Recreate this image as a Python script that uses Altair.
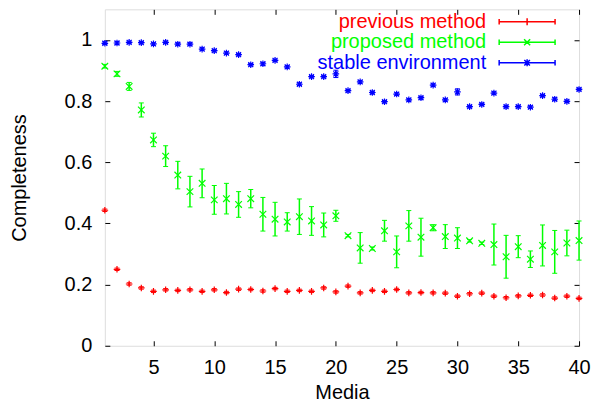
import altair as alt
import pandas as pd

media = list(range(1, 41))
series_names = ["previous method", "proposed method", "stable environment"]
series_colors = ["#ff0000", "#00ff00", "#0000ff"]

prev_y = [0.443, 0.250, 0.202, 0.189, 0.178, 0.183, 0.181, 0.183, 0.178, 0.183,
          0.174, 0.185, 0.184, 0.179, 0.187, 0.178, 0.181, 0.178, 0.189, 0.176,
          0.195, 0.173, 0.181, 0.178, 0.184, 0.173, 0.174, 0.173, 0.172, 0.162,
          0.170, 0.172, 0.162, 0.157, 0.163, 0.165, 0.166, 0.156, 0.162, 0.155]
prev_err = [0.004] * 40

prop_y = [0.914, 0.889, 0.848, 0.771, 0.673, 0.620, 0.558, 0.504, 0.531, 0.477,
          0.481, 0.462, 0.481, 0.430, 0.414, 0.405, 0.422, 0.408, 0.395, 0.425,
          0.360, 0.320, 0.318, 0.376, 0.307, 0.392, 0.355, 0.386, 0.357, 0.352,
          0.343, 0.335, 0.331, 0.291, 0.324, 0.283, 0.328, 0.307, 0.336, 0.344]
prop_err = [0.006, 0.008, 0.013, 0.023, 0.022, 0.034, 0.045, 0.050, 0.047, 0.047,
            0.050, 0.042, 0.030, 0.055, 0.055, 0.030, 0.058, 0.047, 0.039, 0.018,
            0.004, 0.050, 0.005, 0.034, 0.052, 0.050, 0.062, 0.010, 0.039, 0.034,
            0.004, 0.004, 0.067, 0.070, 0.036, 0.027, 0.067, 0.070, 0.042, 0.064]

stab_y = [0.989, 0.990, 0.992, 0.991, 0.987, 0.992, 0.986, 0.986, 0.970, 0.965,
          0.957, 0.952, 0.919, 0.922, 0.933, 0.912, 0.855, 0.880, 0.880, 0.889,
          0.834, 0.863, 0.828, 0.798, 0.823, 0.804, 0.811, 0.852, 0.804, 0.830,
          0.782, 0.789, 0.826, 0.782, 0.782, 0.780, 0.818, 0.806, 0.799, 0.838]
stab_err = [0.004] * 19 + [0.012] + [0.004] * 9 + [0.010] + [0.004] * 10

x_ticks = [5, 10, 15, 20, 25, 30, 35, 40]
y_ticks = [0, 0.2, 0.4, 0.6, 0.8, 1.0]

rows = []
for name, ys, es in zip(series_names, [prev_y, prop_y, stab_y], [prev_err, prop_err, stab_err]):
    for m, v, e in zip(media, ys, es):
        rows.append({"media": m, "value": v, "lo": v - e, "hi": v + e, "series": name})
df = pd.DataFrame(rows)

W, H = 475, 337
FONT = "Liberation Sans"

marker_paths = [
    "M-1,0L1,0M0,-1L0,1",
    "M-1,-1L1,1M-1,1L1,-1",
    "M-1,0L1,0M0,-1L0,1M-0.75,-0.75L0.75,0.75M-0.75,0.75L0.75,-0.75",
]
# legend symbols: unit = 8 px (symbolSize 256)
line_part = "M-3.5,0L3.5,0M-3.5,-0.35L-3.5,0.35M3.5,-0.35L3.5,0.35"
legend_paths = [
    line_part + "M0,-0.44L0,0.44",
    line_part + "M-0.38,-0.38L0.38,0.38M-0.38,0.38L0.38,-0.38",
    line_part + "M0,-0.44L0,0.44M-0.35,-0.35L0.35,0.35M-0.35,0.35L0.35,-0.35",
]

color_expr = "datum.value === '%s' ? '%s' : (datum.value === '%s' ? '%s' : '%s')" % (
    series_names[0], series_colors[0], series_names[1], series_colors[1], series_colors[2])

xs = alt.Scale(domain=[1, 40], nice=False, zero=False)
ys = alt.Scale(domain=[0, 1.1], nice=False, zero=False)
color = alt.Color("series:N", scale=alt.Scale(domain=series_names, range=series_colors), legend=None)

x_main = alt.Axis(orient="bottom", offset=0, values=x_ticks, ticks=False, tickSize=0, domain=False,
                  grid=False, labelFont=FONT, labelFontSize=20, labelColor="black", labelPadding=12,
                  labelFlush=False, labelOverlap=False, title="Media", titleFont=FONT,
                  titleFontSize=20, titleFontWeight="normal", titleColor="black",
                  titleX=W / 2, titleY=47, titleBaseline="middle")
y_main = alt.Axis(orient="left", offset=0, values=y_ticks, format="~g", ticks=False, tickSize=0,
                  domain=False, grid=False, labelFont=FONT, labelFontSize=20, labelColor="black",
                  labelPadding=13, labelFlush=False, labelOverlap=False, title="Completeness",
                  titleFont=FONT, titleFontSize=20, titleFontWeight="normal", titleColor="black",
                  titleX=-85, titleY=H / 2, titleBaseline="middle", titleAngle=270)


def tick_axis(orient, values):
    off = -H if orient in ("top", "bottom") else -W
    return alt.Axis(orient=orient, offset=off, values=values, labels=False, domain=False, grid=False,
                    ticks=True, tickSize=5, tickColor="black", tickWidth=1, title=None)


base = alt.Chart(df)

rules = base.mark_rule(strokeWidth=1.5).encode(
    x=alt.X("media:Q", scale=xs, axis=x_main),
    y=alt.Y("lo:Q", scale=ys, axis=y_main),
    y2="hi:Q",
    color=color,
)
cap_lo = base.mark_tick(orient="horizontal", size=5, thickness=1, opacity=1).encode(
    x=alt.X("media:Q", scale=xs, axis=tick_axis("top", x_ticks)),
    y=alt.Y("lo:Q", scale=ys, axis=tick_axis("right", y_ticks)),
    color=color,
)
cap_hi = base.mark_tick(orient="horizontal", size=5, thickness=1, opacity=1).encode(
    x=alt.X("media:Q", scale=xs, axis=tick_axis("bottom", x_ticks)),
    y=alt.Y("hi:Q", scale=ys, axis=tick_axis("left", y_ticks)),
    color=color,
)
points = base.mark_point(filled=False, size=44, strokeWidth=1.2, opacity=1).encode(
    x=alt.X("media:Q", scale=xs, axis=None),
    y=alt.Y("value:Q", scale=ys, axis=None),
    color=color,
    shape=alt.Shape("series:N", scale=alt.Scale(domain=series_names, range=marker_paths), legend=None),
)
legend_layer = base.mark_point(filled=False, size=36, strokeWidth=1.5, opacity=0).encode(
    x=alt.X("media:Q", scale=xs, axis=None),
    y=alt.Y("value:Q", scale=ys, axis=None),
    color=color,
    shape=alt.Shape(
        "series:N",
        scale=alt.Scale(domain=series_names, range=legend_paths),
        legend=alt.Legend(
            orient="none", legendX=413, legendY=2.5, title=None, padding=0, rowPadding=0.5,
            labelFont=FONT, labelFontSize=20, labelAlign="right",
            labelOffset=alt.ExprRef(expr="-51"), labelLimit=400,
            labelColor=alt.ExprRef(expr=color_expr),
            symbolStrokeColor=alt.ExprRef(expr=color_expr),
            symbolSize=256, symbolStrokeWidth=1.5, symbolOpacity=1,
        ),
    ),
)

chart = (
    alt.layer(rules, cap_lo, cap_hi, points, legend_layer)
    .resolve_scale(shape="independent")
    .resolve_axis(x="independent", y="independent")
    .properties(
        width=W, height=H,
        padding={"left": 97, "top": 1, "right": 20, "bottom": 56},
        autosize=alt.AutoSizeParams(type="none"),
    )
    .configure_view(stroke="black", strokeWidth=1)
    .configure(background="white")
)

chart.save("out.html", embed_options={"renderer": "svg", "actions": False})
